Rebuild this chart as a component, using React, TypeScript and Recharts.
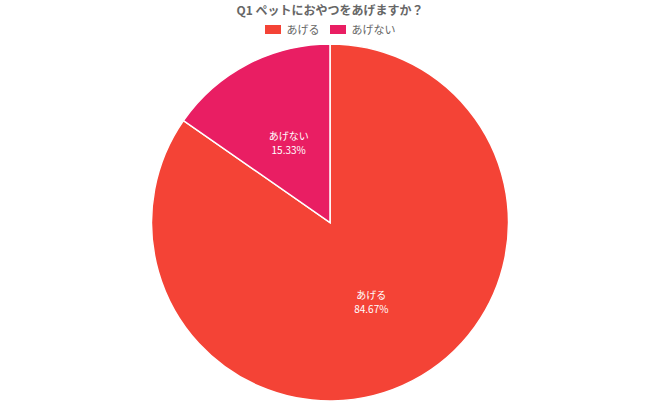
import React from "react";
import { PieChart, Pie, Cell } from "recharts";

const categories = ["あげる", "あげない"];
const values = [84.67, 15.33];
const colors = ["#F44336", "#E91E63"];
const title = "Q1 ペットにおやつをあげますか？";

const data = categories.map((name, i) => ({ name, value: values[i] }));

const FONT = "'Noto Sans CJK JP', 'Noto Sans', sans-serif";
const RAD = Math.PI / 180;

const renderLabel = (props: any) => {
  const { cx, cy, midAngle, outerRadius, innerRadius, name, value } = props;
  const r = (innerRadius + outerRadius) / 2;
  const x = cx + r * Math.cos(-midAngle * RAD);
  const y = cy + r * Math.sin(-midAngle * RAD);
  return (
    <g>
      <text x={x} y={y - 3} fill="#fff" textAnchor="middle" fontSize={10} fontFamily={FONT}>
        {name}
      </text>
      <text x={x} y={y + 11} fill="#fff" textAnchor="middle" fontSize={10} fontFamily={FONT}>
        {value.toFixed(2)}%
      </text>
    </g>
  );
};

export default function App() {
  return (
    <div style={{ position: "fixed", left: 0, top: 0, width: 660, height: 404, background: "#fff" }}>
      <div
        style={{
          position: "absolute",
          top: 1,
          left: 0,
          width: 660,
          textAlign: "center",
          fontFamily: FONT,
          fontWeight: "bold",
          fontSize: 12,
          color: "#666",
        }}
      >
        {title}
      </div>
      <div
        style={{
          position: "absolute",
          top: 21,
          left: 0,
          width: 660,
          display: "flex",
          justifyContent: "center",
          alignItems: "center",
          fontFamily: FONT,
          fontSize: 11,
          color: "#666",
        }}
      >
        {categories.map((c, i) => (
          <div key={c} style={{ display: "flex", alignItems: "center", marginLeft: i ? 10 : 0 }}>
            <span style={{ display: "inline-block", width: 16, height: 9, background: colors[i], marginRight: 6 }} />
            <span>{c}</span>
          </div>
        ))}
      </div>
      <PieChart
        width={660}
        height={404}
        margin={{ top: 0, right: 0, bottom: 0, left: 0 }}
        style={{ position: "absolute", left: 0, top: 0 }}
      >
        <Pie
          data={data}
          dataKey="value"
          nameKey="name"
          cx={330}
          cy={222.5}
          outerRadius={178.5}
          startAngle={90}
          endAngle={-270}
          stroke="#fff"
          strokeWidth={1.5}
          label={renderLabel}
          labelLine={false}
          isAnimationActive={false}
        >
          {data.map((d, i) => (
            <Cell key={d.name} fill={colors[i]} />
          ))}
        </Pie>
      </PieChart>
    </div>
  );
}
